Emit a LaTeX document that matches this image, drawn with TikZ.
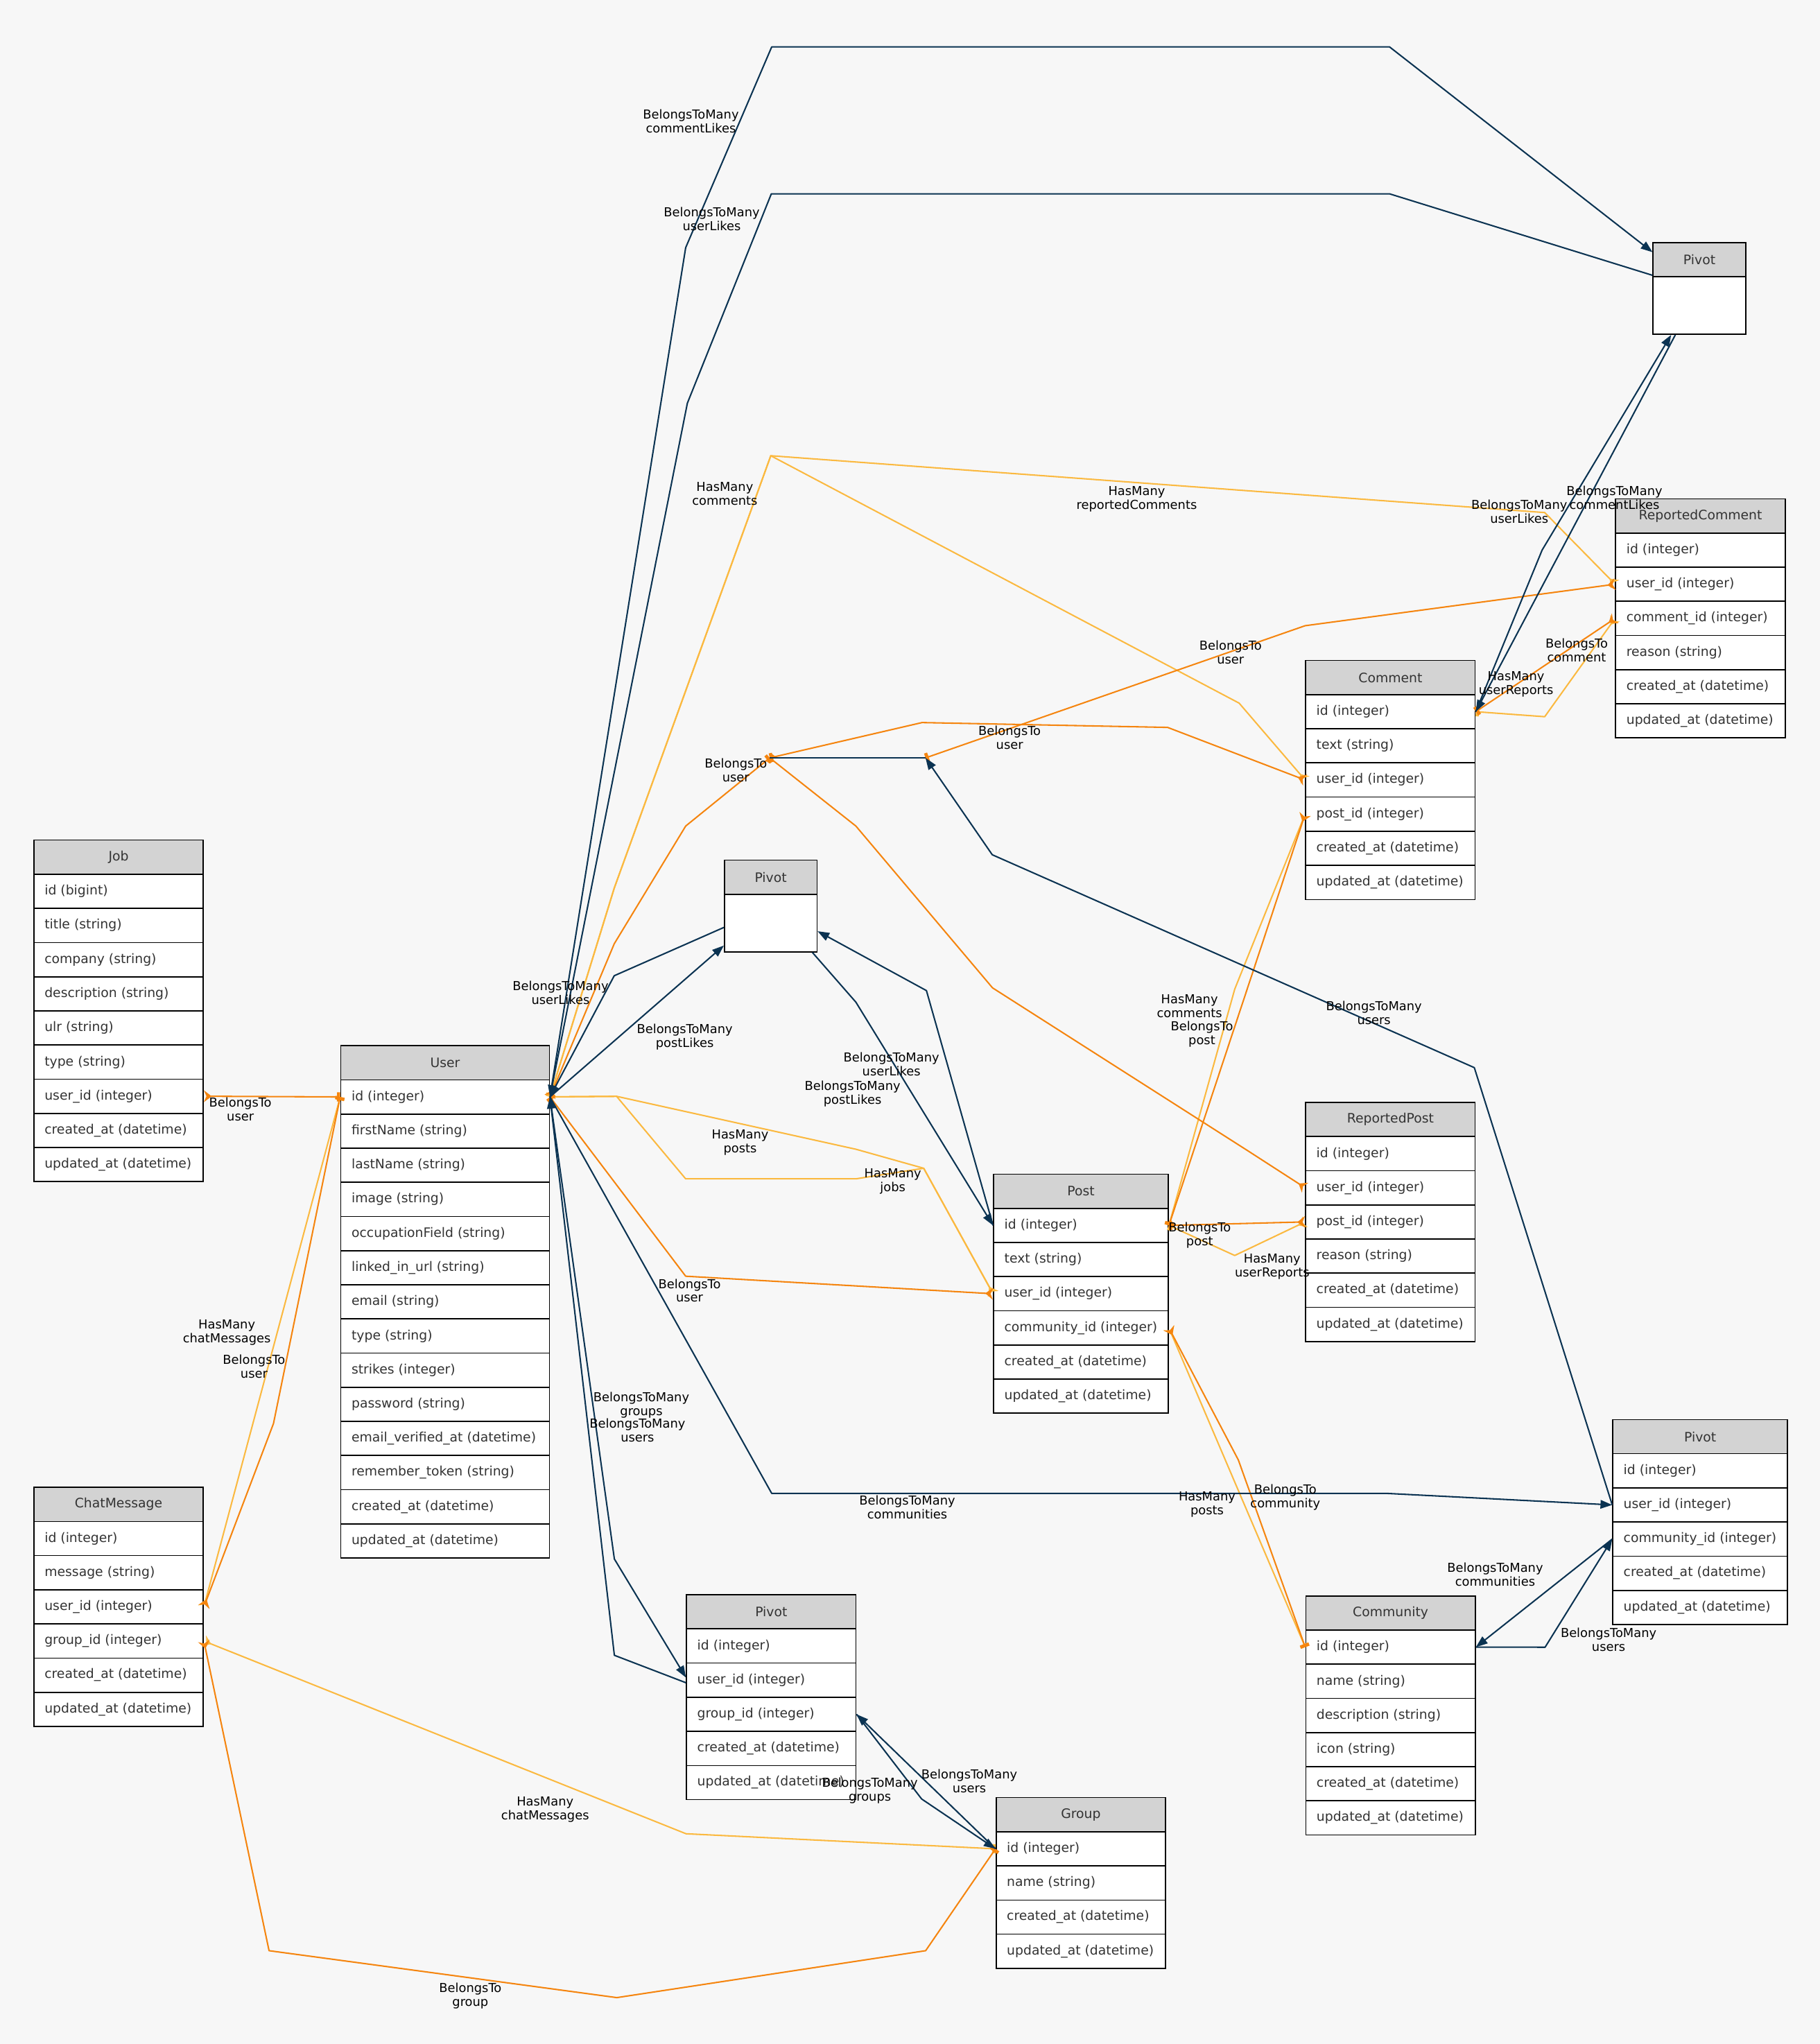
\documentclass[tikz,border=0pt]{standalone}
\usepackage{fontspec}
\setmainfont{DejaVu Sans}
\usetikzlibrary{arrows.meta,calc}
\definecolor{bg}{HTML}{F7F7F7}
\definecolor{navy}{HTML}{0B3352}
\definecolor{btorange}{HTML}{F5850F}
\definecolor{hmyellow}{HTML}{FBB940}
\definecolor{hdrgray}{HTML}{D3D3D3}
\definecolor{txtgray}{HTML}{333333}
\newcommand{\ertable}[6]{%
  \node[hdr, minimum width=#4] (#1-h) at (#2,#3) {};
  \node[htxt] at (#1-h.center) {#5};
  \foreach \f [count=\i] in {#6} {%
    \node[cell, minimum width=#4] (#1-\i) at (#2,{#3+26.2*\i}) {};
    \node[ftxt] at ([xshift=8.5pt]#1-\i.west) {\f};
  }%
}
\newcommand{\emptypivot}[4]{%
  \node[hdr, minimum width=#4] (#1-h) at (#2,#3) {};
  \node[htxt] at (#1-h.center) {Pivot};
  \node[cell, minimum width=#4, minimum height=44.2pt] (#1-b) at (#2,{#3+26.2}) {};
}
\begin{document}
\begin{tikzpicture}[x=1pt,y=-1pt,
  cell/.style={draw=black, line width=0.9pt, fill=white, minimum height=26.2pt, inner sep=0pt, anchor=north west},
  hdr/.style={cell, fill=hdrgray},
  ftxt/.style={anchor=west, inner sep=0pt, text=txtgray, font=\fontsize{10}{12}\selectfont},
  htxt/.style={inner sep=0pt, text=txtgray, font=\fontsize{10}{12}\selectfont},
  lbl/.style={align=center, inner sep=0pt, font=\fontsize{9.5}{10.6}\selectfont},
  rel/.style={line width=1.1pt, line join=round},
  btm/.style={rel, draw=navy, -{Triangle[length=9pt,width=6.5pt]}},
  btmplain/.style={rel, draw=navy},
  bt/.style={rel, draw=btorange, {Stealth[reversed,length=6pt,width=9pt,inset=2pt]}-{Rectangle[length=2.5pt,width=7pt]}},
  hm/.style={rel, draw=hmyellow, {Rectangle[length=2.5pt,width=7pt]}-{Stealth[reversed,length=6pt,width=9pt,inset=2pt]}},
]
\useasboundingbox (0,0) rectangle (1396,1568);
\fill[bg] (0,0) rectangle (1396,1568);

% tables
\ertable{job}{25.5}{644}{130}{Job}{id (bigint), title (string), company (string), description (string), ulr (string), type (string), user\_id (integer), created\_at (datetime), updated\_at (datetime)}
\ertable{user}{261}{801.7}{160}{User}{id (integer), firstName (string), lastName (string), image (string), occupationField (string), linked\_in\_url (string), email (string), type (string), strikes (integer), password (string), email\_verified\_at (datetime), remember\_token (string), created\_at (datetime), updated\_at (datetime)}
\ertable{chat}{25.5}{1140.5}{130}{ChatMessage}{id (integer), message (string), user\_id (integer), group\_id (integer), created\_at (datetime), updated\_at (datetime)}
\emptypivot{pva}{555.3}{659.3}{71}
\emptypivot{pvb}{1267.7}{185.6}{71}
\ertable{rc}{1239}{382.2}{130}{ReportedComment}{id (integer), user\_id (integer), comment\_id (integer), reason (string), created\_at (datetime), updated\_at (datetime)}
\ertable{cmt}{1001.2}{506.2}{130}{Comment}{id (integer), text (string), user\_id (integer), post\_id (integer), created\_at (datetime), updated\_at (datetime)}
\ertable{rp}{1001.2}{845.2}{130}{ReportedPost}{id (integer), user\_id (integer), post\_id (integer), reason (string), created\_at (datetime), updated\_at (datetime)}
\ertable{post}{761.8}{900.3}{134}{Post}{id (integer), text (string), user\_id (integer), community\_id (integer), created\_at (datetime), updated\_at (datetime)}
\ertable{pvc}{1236.8}{1088.5}{134}{Pivot}{id (integer), user\_id (integer), community\_id (integer), created\_at (datetime), updated\_at (datetime)}
\ertable{comm}{1001.3}{1223.8}{130}{Community}{id (integer), name (string), description (string), icon (string), created\_at (datetime), updated\_at (datetime)}
\ertable{pvd}{526.2}{1222.9}{130}{Pivot}{id (integer), user\_id (integer), group\_id (integer), created\_at (datetime), updated\_at (datetime)}
\ertable{grp}{763.7}{1378.5}{130}{Group}{id (integer), name (string), created\_at (datetime), updated\_at (datetime)}

\coordinate (wp1) at (590.5,581.4);
\coordinate (wp2) at (710,581.4);

% HasMany (yellow)
\draw[hm] (user-1.west) -- (chat-3.east);
\draw[hm] (grp-1.west) -- (526.3,1406.7) -- (chat-4.east);
\draw[hm] (user-1.east) -- (471.2,681.3) -- (591.3,349.6) -- (950.6,539.4) -- (cmt-3.west);
\draw[hm] (user-1.east) -- (471.2,681.3) -- (591.3,349.6) -- (1185,393.2) -- (rc-2.west);
\draw[hm] (user-1.east) -- (473,841) -- (656.6,881.6) -- (708.6,896.2) -- (post-3.west);
\draw[hm] (user-1.east) -- (473,841) -- (526,904.3) -- (656.6,904.3) -- (708.6,896.2) -- (post-3.west);
\draw[hm] (post-1.east) -- (947.2,758.8) -- (cmt-4.west);
\draw[hm] (post-1.east) -- (947.2,963.1) -- (rp-3.west);
\draw[hm] (comm-1.west) -- (post-4.east);
\draw[hm] (cmt-1.east) -- (1185,549.8) -- (rc-3.west);

% BelongsTo (orange)
\draw[bt] (job-7.east) -- (user-1.west);
\draw[bt] (chat-3.east) -- (209.8,1092) -- (user-1.west);
\draw[bt] (chat-4.east) -- (206.4,1496.4) -- (473.2,1532.4) -- (710.1,1496.4) -- (grp-1.west);
\draw[bt] (post-3.west) -- (526,979) -- (user-1.east);
\draw[bt] (cmt-3.west) -- (895.7,558) -- (707.3,554.3) -- (wp1);
\draw[bt] (rc-2.west) -- (1001.2,480) -- (wp2);
\draw[bt] (rp-2.west) -- (957.3,882.8) -- (761.4,757.8) -- (656.6,633.7) -- (wp1);
\draw[bt] (user-1.east) -- (471.2,724) -- (526,633.7) -- (wp1);
\draw[bt] (cmt-4.west) -- (post-1.east);
\draw[bt] (rp-3.west) -- (post-1.east);
\draw[bt] (post-4.east) -- (950,1120) -- (comm-1.west);
\draw[bt] (rc-3.west) -- (cmt-1.east);

% BelongsToMany (navy)
\draw[btm] (user-1.east) -- (526,190) -- (592,36) -- (1066,36) -- ($(pvb-h.west)+(0,-5.7)$);
\draw[btm] ($(pvb-h.south west)+(0,-1.5)$) -- (1066,148.7) -- (591.7,148.7) -- (527.3,309.3) -- (user-1.east);
\draw[btm] ($(pva-b.west)+(0,3.4)$) -- (471.2,748.5) -- (user-1.east);
\draw[btm] (user-1.east) -- ($(pva-b.west)+(0,17.3)$);
\draw[btm] ($(pva-b.south east)+(-4,0)$) -- (656.6,768.8) -- (post-1.west);
\draw[btm] (post-1.west) -- (710.7,759.9) -- ($(pva-b.east)+(0,6.3)$);
\draw[btm] (user-1.east) -- (592,1145.6) -- (1063.6,1145.6) -- (pvc-2.west);
\draw[btm] (pvc-2.west) -- (1131,819) -- (761.2,655.7) -- (wp2);
\draw[btmplain] (wp1) -- (wp2);
\draw[btm] (user-1.east) -- (471.3,1195.9) -- ($(pvd-2.west)+(0,-2)$);
\draw[btm] ($(pvd-2.west)+(0,2)$) -- (471.3,1269.8) -- (user-1.east);
\draw[btm] (pvd-3.east) -- (707,1380) -- (grp-1.west);
\draw[btm] (grp-1.west) -- (pvd-3.east);
\draw[btm] (cmt-1.east) -- (1183,422) -- ($(pvb-b.south west)+(14.3,0)$);
\draw[btm] ($(pvb-b.south west)+(17.5,0)$) -- (cmt-1.east);
\draw[btm] (pvc-3.west) -- (comm-1.east);
\draw[btm] (comm-1.east) -- (1185.3,1263.6) -- (pvc-3.west);

% labels
\node[lbl] (l1) at (530,93) {BelongsToMany\\commentLikes};
\node[lbl] (l2) at (546,168) {BelongsToMany\\userLikes};
\node[lbl] (l3) at (556,379) {HasMany\\comments};
\node[lbl] (l4) at (872,383) {HasMany\\reportedComments};
\node[lbl] (l5) at (1238.5,382) {BelongsToMany\\commentLikes};
\node[lbl] (l6) at (1165.5,392.5) {BelongsToMany\\userLikes};
\node[lbl] (l7) at (944,500.5) {BelongsTo\\user};
\node[lbl] (l8) at (1209.5,499) {BelongsTo\\comment};
\node[lbl] (l9) at (1163,525) {HasMany\\userReports};
\node[lbl] (l10) at (774.5,566) {BelongsTo\\user};
\node[lbl] (l11) at (564.5,591) {BelongsTo\\user};
\node[lbl] (l12) at (430,761.5) {BelongsToMany\\userLikes};
\node[lbl] (l13) at (525.3,795.3) {BelongsToMany\\postLikes};
\node[lbl] (l14) at (683.8,816.4) {BelongsToMany\\userLikes};
\node[lbl] (l15) at (654,839.2) {BelongsToMany\\postLikes};
\node[lbl] (l16) at (567.8,876.6) {HasMany\\posts};
\node[lbl] (l17) at (684.9,906) {HasMany\\jobs};
\node[lbl] (l18) at (184.4,851) {BelongsTo\\user};
\node[lbl] (l19) at (1054,777) {BelongsToMany\\users};
\node[lbl] (l20) at (912.5,771.6) {HasMany\\comments};
\node[lbl] (l21) at (922,793.4) {BelongsTo\\post};
\node[lbl] (l22) at (920.3,947.4) {BelongsTo\\post};
\node[lbl] (l23) at (975.9,971.5) {HasMany\\userReports};
\node[lbl] (l24) at (529,990) {BelongsTo\\user};
\node[lbl] (l25) at (174,1022) {HasMany\\chatMessages};
\node[lbl] (l26) at (194.9,1048.3) {BelongsTo\\user};
\node[lbl] (l27) at (492,1078) {BelongsToMany\\groups};
\node[lbl] (l28) at (489,1097) {BelongsToMany\\users};
\node[lbl] (l29) at (986,1148.5) {BelongsTo\\community};
\node[lbl] (l30) at (926,1154) {HasMany\\posts};
\node[lbl] (l31) at (696,1156.2) {BelongsToMany\\communities};
\node[lbl] (l32) at (1147,1208) {BelongsToMany\\communities};
\node[lbl] (l33) at (1234,1258) {BelongsToMany\\users};
\node[lbl] (l34) at (667.3,1373.6) {BelongsToMany\\groups};
\node[lbl] (l35) at (743.6,1366.2) {BelongsToMany\\users};
\node[lbl] (l36) at (418.2,1388) {HasMany\\chatMessages};
\node[lbl] (l37) at (360.8,1531) {BelongsTo\\group};
\end{tikzpicture}
\end{document}
